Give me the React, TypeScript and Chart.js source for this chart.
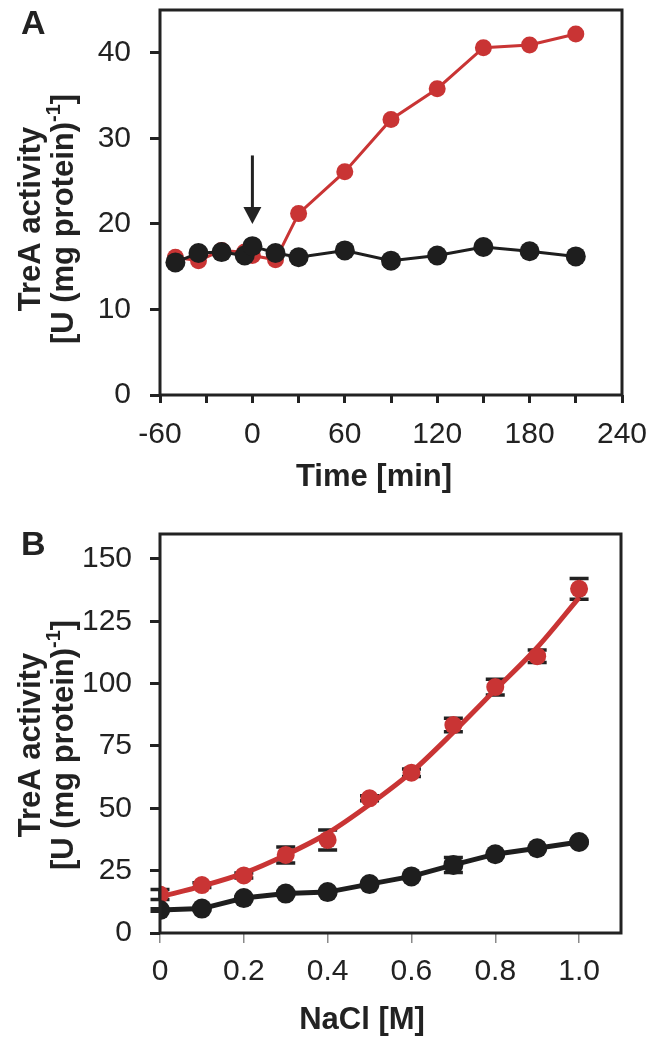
import React, { useEffect, useRef } from "react";
import { Chart, registerables } from "chart.js";

Chart.register(...registerables);

const FONT = "'Liberation Sans', Arial, Helvetica, sans-serif";
const RED = "#c93434";
const BLACK = "#1e1e1e";
const INK = "#222222";

// ---------- Panel A data ----------
const timeA = [-50, -35, -20, -5, 0, 15, 30, 60, 90, 120, 150, 180, 210];
const redA = [16.1, 15.7, 16.9, 16.7, 16.3, 15.8, 21.2, 26.1, 32.2, 35.8, 40.6, 40.9, 42.2];
const blackA = [15.5, 16.6, 16.7, 16.3, 17.4, 16.6, 16.1, 16.9, 15.7, 16.3, 17.3, 16.8, 16.2];
const xTickLabelsA = [-60, 0, 60, 120, 180, 240];
const arrowTimeA = 0;
const arrowFromA = 28;
const arrowToA = 20;

// ---------- Panel B data ----------
const naclB = [0, 0.1, 0.2, 0.3, 0.4, 0.5, 0.6, 0.7, 0.8, 0.9, 1.0];
const redB = [15.4, 19.2, 23.1, 31.3, 37.3, 54.0, 64.3, 83.4, 98.6, 111.0, 138.0];
const redErrB = [2.0, 1.0, 1.0, 3.2, 4.0, 1.0, 1.5, 2.7, 3.2, 2.5, 4.2];
const redFitB = [14.5, 18.8, 24.0, 31.3, 40.0, 51.5, 64.5, 80.5, 97.5, 114.5, 134.5];
const blackB = [9.2, 9.8, 14.0, 15.8, 16.4, 19.6, 22.7, 27.3, 31.6, 34.0, 36.5];
const blackErrB = [0.5, 0.5, 0.5, 0.5, 0.5, 0.5, 0.5, 3.0, 0.5, 0.5, 0.5];
const xTickLabelsB = ["0", "0.2", "0.4", "0.6", "0.8", "1.0"];

const pts = (xs: number[], ys: number[]) => xs.map((x, i) => ({ x, y: ys[i] }));

type Deco = {
  letter: string;
  letterX: number;
  letterY: number;
  xTitle: string;
  xTitleX: number;
  xTitleY: number;
  yTitleY: number;
};

function decoPlugin(d: Deco) {
  return {
    id: "deco" + d.letter,
    afterDraw(chart: any) {
      const { ctx, chartArea: a } = chart;
      ctx.save();
      ctx.strokeStyle = INK;
      ctx.lineWidth = 3;
      ctx.strokeRect(a.left, a.top, a.right - a.left, a.bottom - a.top);
      ctx.fillStyle = INK;
      ctx.font = `bold 34px ${FONT}`;
      ctx.textAlign = "left";
      ctx.textBaseline = "middle";
      ctx.fillText(d.letter, d.letterX, d.letterY);
      ctx.font = `bold 31px ${FONT}`;
      ctx.textAlign = "center";
      ctx.fillText(d.xTitle, d.xTitleX, d.xTitleY);
      // y title line 1
      ctx.save();
      ctx.translate(31, d.yTitleY);
      ctx.rotate(-Math.PI / 2);
      ctx.textAlign = "center";
      ctx.fillText("TreA activity", 0, 0);
      ctx.restore();
      // y title line 2 with superscript
      ctx.save();
      ctx.translate(64, d.yTitleY);
      ctx.rotate(-Math.PI / 2);
      const main = "[U (mg protein)";
      const sup = "-1";
      const end = "]";
      const mainFont = `bold 31px ${FONT}`;
      const supFont = `bold 20px ${FONT}`;
      ctx.font = mainFont;
      const wMain = ctx.measureText(main).width;
      const wEnd = ctx.measureText(end).width;
      ctx.font = supFont;
      const wSup = ctx.measureText(sup).width;
      let x = -(wMain + wSup + wEnd) / 2;
      ctx.textAlign = "left";
      ctx.font = mainFont;
      ctx.fillText(main, x, 0);
      x += wMain;
      ctx.font = supFont;
      ctx.fillText(sup, x, -10);
      x += wSup;
      ctx.font = mainFont;
      ctx.fillText(end, x, 0);
      ctx.restore();
      ctx.restore();
    },
  };
}

const arrowPlugin = {
  id: "arrowA",
  afterDatasetsDraw(chart: any) {
    const { ctx, scales } = chart;
    const px = scales.x.getPixelForValue(arrowTimeA);
    const y0 = scales.y.getPixelForValue(arrowFromA);
    const y1 = scales.y.getPixelForValue(arrowToA);
    const headL = 17;
    const headW = 9;
    ctx.save();
    ctx.strokeStyle = INK;
    ctx.fillStyle = INK;
    ctx.lineWidth = 3;
    ctx.beginPath();
    ctx.moveTo(px, y0);
    ctx.lineTo(px, y1 - headL + 1);
    ctx.stroke();
    ctx.beginPath();
    ctx.moveTo(px - headW, y1 - headL);
    ctx.lineTo(px + headW, y1 - headL);
    ctx.lineTo(px, y1);
    ctx.closePath();
    ctx.fill();
    ctx.restore();
  },
};

const errPlugin = {
  id: "errB",
  beforeDatasetsDraw(chart: any) {
    const { ctx, scales } = chart;
    const draw = (xs: number[], ys: number[], es: number[]) => {
      xs.forEach((xv, i) => {
        const px = scales.x.getPixelForValue(xv);
        const top = scales.y.getPixelForValue(ys[i] + es[i]);
        const bot = scales.y.getPixelForValue(ys[i] - es[i]);
        ctx.beginPath();
        ctx.moveTo(px, top);
        ctx.lineTo(px, bot);
        ctx.moveTo(px - 9.5, top);
        ctx.lineTo(px + 9.5, top);
        ctx.moveTo(px - 9.5, bot);
        ctx.lineTo(px + 9.5, bot);
        ctx.stroke();
      });
    };
    ctx.save();
    ctx.strokeStyle = INK;
    ctx.lineWidth = 3.5;
    draw(naclB, redB, redErrB);
    draw(naclB, blackB, blackErrB);
    ctx.restore();
  },
};

function tickFont() {
  return { family: FONT, size: 30 };
}

function zeroPad(s: any, isX: boolean) {
  if (isX) s.height = 115;
  else s.width = 160;
  s.paddingTop = 0;
  s.paddingBottom = 0;
  s.paddingLeft = 0;
  s.paddingRight = 0;
}

function ChartA() {
  const ref = useRef<HTMLCanvasElement>(null);
  useEffect(() => {
    const chart = new Chart(ref.current as HTMLCanvasElement, {
      type: "line",
      data: {
        datasets: [
          {
            data: pts(timeA, blackA),
            borderColor: BLACK,
            backgroundColor: BLACK,
            borderWidth: 3,
            pointRadius: 10,
            pointBorderWidth: 0,
            pointBackgroundColor: BLACK,
            tension: 0,
          },
          {
            data: pts(timeA, redA),
            borderColor: RED,
            backgroundColor: RED,
            borderWidth: 3,
            pointRadius: 8.5,
            pointBorderWidth: 0,
            pointBackgroundColor: RED,
            tension: 0,
          },
        ],
      },
      options: {
        animation: false,
        responsive: false,
        layout: { padding: { top: 9, right: 31, left: 0, bottom: 0 } },
        plugins: { legend: { display: false }, tooltip: { enabled: false } },
        scales: {
          x: {
            type: "linear",
            min: -60,
            max: 240,
            afterFit: (s: any) => zeroPad(s, true),
            border: { display: false },
            grid: {
              display: true,
              drawOnChartArea: false,
              drawTicks: true,
              tickLength: 8,
              tickWidth: 3,
              tickColor: INK,
              color: INK,
              lineWidth: 3,
            },
            ticks: {
              stepSize: 30,
              includeBounds: false,
              autoSkip: false,
              maxRotation: 0,
              minRotation: 0,
              padding: 14,
              color: INK,
              font: tickFont(),
              callback: (v: any) => (xTickLabelsA.includes(Number(v)) ? String(v) : ""),
            },
          },
          y: {
            type: "linear",
            min: 0,
            max: 45,
            afterFit: (s: any) => zeroPad(s, false),
            border: { display: false },
            grid: {
              display: true,
              drawOnChartArea: false,
              drawTicks: true,
              tickLength: 10,
              tickWidth: 3,
              tickColor: INK,
              color: INK,
              lineWidth: 3,
            },
            ticks: {
              stepSize: 10,
              includeBounds: false,
              padding: 19,
              color: INK,
              font: tickFont(),
            },
          },
        },
      } as any,
      plugins: [
        arrowPlugin,
        decoPlugin({
          letter: "A",
          letterX: 21,
          letterY: 25,
          xTitle: "Time [min]",
          xTitleX: 374,
          xTitleY: 477,
          yTitleY: 219,
        }),
      ],
    });
    return () => chart.destroy();
  }, []);
  return <canvas ref={ref} width={653} height={510} style={{ display: "block" }} />;
}

function ChartB() {
  const ref = useRef<HTMLCanvasElement>(null);
  useEffect(() => {
    const chart = new Chart(ref.current as HTMLCanvasElement, {
      type: "line",
      data: {
        datasets: [
          {
            data: pts(naclB, blackB),
            borderColor: BLACK,
            backgroundColor: BLACK,
            borderWidth: 5,
            pointRadius: 10,
            pointBorderWidth: 0,
            pointBackgroundColor: BLACK,
            tension: 0,
          },
          {
            data: pts(naclB, redB),
            showLine: false,
            borderColor: RED,
            backgroundColor: RED,
            pointRadius: 9,
            pointBorderWidth: 0,
            pointBackgroundColor: RED,
          },
          {
            data: pts(naclB, redFitB),
            borderColor: RED,
            borderWidth: 5,
            pointRadius: 0,
            cubicInterpolationMode: "monotone",
          },
        ],
      },
      options: {
        animation: false,
        responsive: false,
        layout: { padding: { top: 24, right: 32, left: 0, bottom: 0 } },
        plugins: { legend: { display: false }, tooltip: { enabled: false } },
        scales: {
          x: {
            type: "linear",
            min: 0,
            max: 1.1,
            afterFit: (s: any) => zeroPad(s, true),
            border: { display: false },
            grid: {
              display: true,
              drawOnChartArea: false,
              drawTicks: true,
              tickLength: 10,
              tickWidth: 1.5,
              tickColor: "#8a8a8a",
              color: "#8a8a8a",
              lineWidth: 1.5,
            },
            ticks: {
              stepSize: 0.2,
              includeBounds: false,
              autoSkip: false,
              maxRotation: 0,
              minRotation: 0,
              padding: 11,
              color: INK,
              font: tickFont(),
              callback: (_v: any, i: number) => xTickLabelsB[i] ?? "",
            },
          },
          y: {
            type: "linear",
            min: 0,
            max: 160,
            afterFit: (s: any) => zeroPad(s, false),
            border: { display: false },
            grid: {
              display: true,
              drawOnChartArea: false,
              drawTicks: true,
              tickLength: 10,
              tickWidth: 3,
              tickColor: INK,
              color: INK,
              lineWidth: 3,
            },
            ticks: {
              stepSize: 25,
              includeBounds: false,
              padding: 18,
              color: INK,
              font: tickFont(),
            },
          },
        },
      } as any,
      plugins: [
        errPlugin,
        decoPlugin({
          letter: "B",
          letterX: 21,
          letterY: 36,
          xTitle: "NaCl [M]",
          xTitleX: 362,
          xTitleY: 510,
          yTitleY: 235,
        }),
      ],
    });
    return () => chart.destroy();
  }, []);
  return <canvas ref={ref} width={653} height={538} style={{ display: "block" }} />;
}

export default function App() {
  return (
    <div
      style={{
        position: "absolute",
        left: 0,
        top: 0,
        width: 653,
        height: 1048,
        background: "#ffffff",
      }}
    >
      <ChartA />
      <ChartB />
    </div>
  );
}
